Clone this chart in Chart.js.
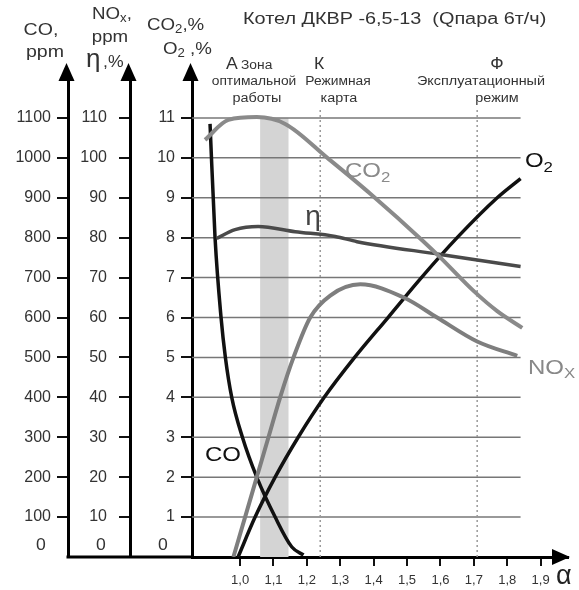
<!DOCTYPE html>
<html>
<head>
<meta charset="utf-8">
<script src="https://cdn.jsdelivr.net/npm/chart.js@4.4.1/dist/chart.umd.min.js"></script>
<style>
  html, body { margin: 0; padding: 0; background: #fff; }
</style>
</head>
<body>
<canvas id="boilerChart" width="579" height="590"></canvas>
<script>
// excess air ratio ticks (x axis)
const alphaTicks = [1.0, 1.1, 1.2, 1.3, 1.4, 1.5, 1.6, 1.7, 1.8, 1.9];
// left axes tick values
const coTicks = [0, 100, 200, 300, 400, 500, 600, 700, 800, 900, 1000, 1100];
const noxTicks = [0, 10, 20, 30, 40, 50, 60, 70, 80, 90, 100, 110];
const pctTicks = [0, 1, 2, 3, 4, 5, 6, 7, 8, 9, 10, 11];

// curves: [alpha, value]
const co2Points = [[0.895, 10.45], [0.965, 10.95], [1.05, 11.02], [1.135, 10.85], [1.264, 9.98], [1.39, 9.1], [1.55, 7.9], [1.60, 7.5], [1.70, 6.66], [1.77, 6.16], [1.845, 5.74]];
const etaPoints = [[0.93, 79.8], [0.985, 82], [1.054, 82.8], [1.165, 81.5], [1.285, 80.3], [1.35, 79], [1.6, 75.8], [1.84, 72.8]];
const o2Points = [[0.994, 0], [1.045, 1], [1.105, 2], [1.174, 3], [1.252, 4], [1.343, 5], [1.443, 6], [1.543, 7], [1.65, 8], [1.77, 9], [1.84, 9.48]];
const noxPoints = [[0.98, 0], [1.015, 10], [1.05, 20], [1.085, 30], [1.12, 40], [1.16, 50], [1.21, 60], [1.27, 65.5], [1.36, 68.3], [1.49, 65], [1.59, 60], [1.71, 54], [1.83, 50.4]];
const coPoints = [[0.91, 1085], [0.925, 800], [0.943, 600], [0.956, 500], [0.975, 400], [1.007, 300], [1.05, 200], [1.105, 100], [1.155, 25], [1.19, 5]];

// zones
const optimalBand = [1.06, 1.145];
const zoneLines = [1.24, 1.71];
const gridEnd = 1.84;

const FONT = '"Liberation Sans", Arial, sans-serif';

function toXY(points) {
    return points.map(p => ({ x: p[0], y: p[1] }));
}

function fixTicks(values) {
    return function(scale) {
        scale.ticks = values.map(v => ({ value: v }));
    };
}

function line(points, color, width, axis) {
    return {
        data: toXY(points),
        borderColor: color,
        borderWidth: width,
        pointRadius: 0,
        fill: false,
        cubicInterpolationMode: 'monotone',
        yAxisID: axis
    };
}

// the scan is a little stretched sideways, so text gets a horizontal factor
function txt(ctx, str, x, y, size, color, align, stretch) {
    ctx.save();
    ctx.font = size + 'px ' + FONT;
    ctx.fillStyle = color;
    ctx.textBaseline = 'middle';
    ctx.textAlign = 'left';
    const w = ctx.measureText(str).width * stretch;
    let left = x;
    if (align === 'center') left = x - w / 2;
    if (align === 'right') left = x - w;
    ctx.translate(left, y);
    ctx.scale(stretch, 1);
    ctx.fillText(str, 0, 0);
    ctx.restore();
    return left + w;
}

// pieces: [text, isSub]
function txtParts(ctx, parts, x, y, size, color, stretch) {
    let cx = x;
    parts.forEach(p => {
        if (p[1]) cx = txt(ctx, p[0], cx, y + size * 0.3, Math.round(size * 0.68), color, 'left', stretch);
        else cx = txt(ctx, p[0], cx, y, size, color, 'left', stretch);
    });
}

function arrowUp(ctx, x, y) {
    ctx.beginPath();
    ctx.moveTo(x, y - 17);
    ctx.lineTo(x - 8, y + 1);
    ctx.lineTo(x + 8, y + 1);
    ctx.closePath();
    ctx.fill();
}

const decorPlugin = {
    id: 'decor',
    beforeDatasetsDraw(chart) {
        const { ctx, scales: { x, y } } = chart;
        const bottom = y.getPixelForValue(0);
        ctx.save();
        // shaded optimal zone
        const bx0 = x.getPixelForValue(optimalBand[0]);
        const bx1 = x.getPixelForValue(optimalBand[1]);
        const top = y.getPixelForValue(11);
        ctx.fillStyle = '#d4d4d4';
        ctx.fillRect(bx0, top, bx1 - bx0, bottom - top);
        // horizontal grid, stops short of the arrow
        ctx.strokeStyle = '#777';
        ctx.lineWidth = 1.5;
        pctTicks.slice(1).forEach(v => {
            const py = y.getPixelForValue(v);
            ctx.beginPath();
            ctx.moveTo(chart.chartArea.left, py);
            ctx.lineTo(x.getPixelForValue(gridEnd), py);
            ctx.stroke();
        });
        // dotted zone boundaries
        ctx.strokeStyle = '#999';
        ctx.lineWidth = 1.5;
        ctx.setLineDash([2, 3]);
        zoneLines.forEach(a => {
            const px = x.getPixelForValue(a);
            ctx.beginPath();
            ctx.moveTo(px, y.getPixelForValue(11.2));
            ctx.lineTo(px, bottom);
            ctx.stroke();
        });
        ctx.restore();
    },
    afterDraw(chart) {
        const { ctx, chartArea, scales } = chart;
        const { x, y, yN, yCO } = scales;
        const bottom = y.getPixelForValue(0);
        ctx.save();
        ctx.fillStyle = '#000';
        ctx.strokeStyle = '#000';
        // baseline under the left axes
        ctx.lineWidth = 3;
        ctx.beginPath();
        ctx.moveTo(yCO.right - 1.5, bottom);
        ctx.lineTo(chartArea.left, bottom);
        ctx.stroke();
        // axis arrows
        [yCO, yN, y].forEach(s => arrowUp(ctx, s.right - 1.5, chartArea.top));
        ctx.beginPath();
        ctx.moveTo(chartArea.right + 2, bottom);
        ctx.lineTo(chartArea.right - 16, bottom - 8);
        ctx.lineTo(chartArea.right - 16, bottom + 8);
        ctx.closePath();
        ctx.fill();
        ctx.restore();

        // zero labels sit a bit above the baseline
        const zy = bottom - 11;
        txt(ctx, '0', yCO.right - 27, zy, 16, '#333', 'center', 1.1);
        txt(ctx, '0', yN.right - 29, zy, 16, '#333', 'center', 1.1);
        txt(ctx, '0', y.right - 29, zy, 16, '#333', 'center', 1.1);

        // axis titles
        const ink = '#333';
        txt(ctx, 'CO,', 41, 30, 17, ink, 'center', 1.15);
        txt(ctx, 'ppm', 45, 52, 17, ink, 'center', 1.15);
        txtParts(ctx, [['NO', false], ['x', true], [',', false]], 92, 14, 17, ink, 1.1);
        txt(ctx, 'ppm', 110, 37, 17, ink, 'center', 1.1);
        txt(ctx, 'η', 86, 60, 26, ink, 'left', 1.0);
        txt(ctx, ',%', 103, 63, 16, ink, 'left', 1.1);
        txtParts(ctx, [['CO', false], ['2', true], [',%', false]], 147, 25, 17, ink, 1.1);
        txtParts(ctx, [['O', false], ['2', true], [' ,%', false]], 163, 49, 17, ink, 1.1);

        // title
        txt(ctx, 'Котел ДКВР -6,5-13  (Qпара 6т/ч)', 243, 20, 16, ink, 'left', 1.24);

        // zone captions
        txt(ctx, 'А', 226, 65, 16, ink, 'left', 1.1);
        txt(ctx, 'Зона', 241, 66, 12, ink, 'left', 1.15);
        txt(ctx, 'К', 314, 65, 16, ink, 'left', 1.1);
        txt(ctx, 'Ф', 497, 65, 16, ink, 'center', 1.1);
        txt(ctx, 'оптимальной', 254, 82, 12, ink, 'center', 1.15);
        txt(ctx, 'работы', 257, 99, 12, ink, 'center', 1.2);
        txt(ctx, 'Режимная', 338, 82, 12, ink, 'center', 1.15);
        txt(ctx, 'карта', 339, 99, 12, ink, 'center', 1.2);
        txt(ctx, 'Эксплуатационный', 481, 82, 12, ink, 'center', 1.2);
        txt(ctx, 'режим', 497, 99, 12, ink, 'center', 1.2);

        // curve labels
        txtParts(ctx, [['CO', false], ['2', true]], x.getPixelForValue(1.314), y.getPixelForValue(9.65), 20, '#8a8a8a', 1.2);
        txt(ctx, 'η', x.getPixelForValue(1.195), y.getPixelForValue(8.5), 28, '#444', 'left', 1.0);
        txtParts(ctx, [['O', false], ['2', true]], x.getPixelForValue(1.853), y.getPixelForValue(9.9), 20, '#111', 1.2);
        txtParts(ctx, [['NO', false], ['X', true]], x.getPixelForValue(1.862), y.getPixelForValue(4.72), 20, '#888', 1.2);
        txt(ctx, 'CO', x.getPixelForValue(0.895), y.getPixelForValue(2.54), 20, '#111', 'left', 1.2);
        txt(ctx, 'α', 556, 577, 27, '#222', 'left', 1.0);
    }
};

const leftAxis = (max, ticks, width, pad, weight) => ({
    type: 'linear',
    position: 'left',
    weight: weight,
    min: 0,
    max: max,
    afterBuildTicks: fixTicks(ticks),
    afterFit: s => { s.width = width; },
    border: { display: true, color: '#000', width: 3 },
    grid: {
        drawOnChartArea: false,
        tickLength: 11,
        lineWidth: 2,
        color: ctx => (ctx.tick && ctx.tick.value === 0 ? 'rgba(0,0,0,0)' : '#111')
    },
    ticks: {
        padding: pad,
        color: '#333',
        font: { family: FONT, size: 16 },
        callback: v => (v === 0 ? '' : String(v))
    }
});

new Chart(document.getElementById('boilerChart'), {
    type: 'line',
    data: {
        datasets: [
            line(co2Points, '#8a8a8a', 4, 'y'),
            line(etaPoints, '#4a4a4a', 3.5, 'yN'),
            line(noxPoints, '#7e7e7e', 4, 'yN'),
            line(o2Points, '#111', 3.5, 'y'),
            line(coPoints, '#111', 3.5, 'yCO')
        ]
    },
    options: {
        responsive: false,
        animation: false,
        layout: { padding: { top: 80, left: 0, right: 11, bottom: 0 } },
        plugins: {
            legend: { display: false },
            tooltip: { enabled: false }
        },
        scales: {
            x: {
                type: 'linear',
                min: 0.856,
                max: 1.982,
                afterBuildTicks: fixTicks(alphaTicks),
                afterFit: s => { s.height = 33; },
                border: { display: true, color: '#000', width: 3 },
                grid: { drawOnChartArea: false, tickLength: 9, lineWidth: 2, color: '#111' },
                ticks: {
                    padding: 7,
                    color: '#333',
                    font: { family: FONT, size: 13 },
                    callback: v => v.toFixed(1).replace('.', ',')
                }
            },
            yCO: leftAxis(1195, coTicks, 68, 6, 3),
            yN: leftAxis(119.5, noxTicks, 62, 12, 2),
            y: leftAxis(11.95, pctTicks, 62, 6, 1)
        }
    },
    plugins: [decorPlugin]
});
</script>
</body>
</html>
